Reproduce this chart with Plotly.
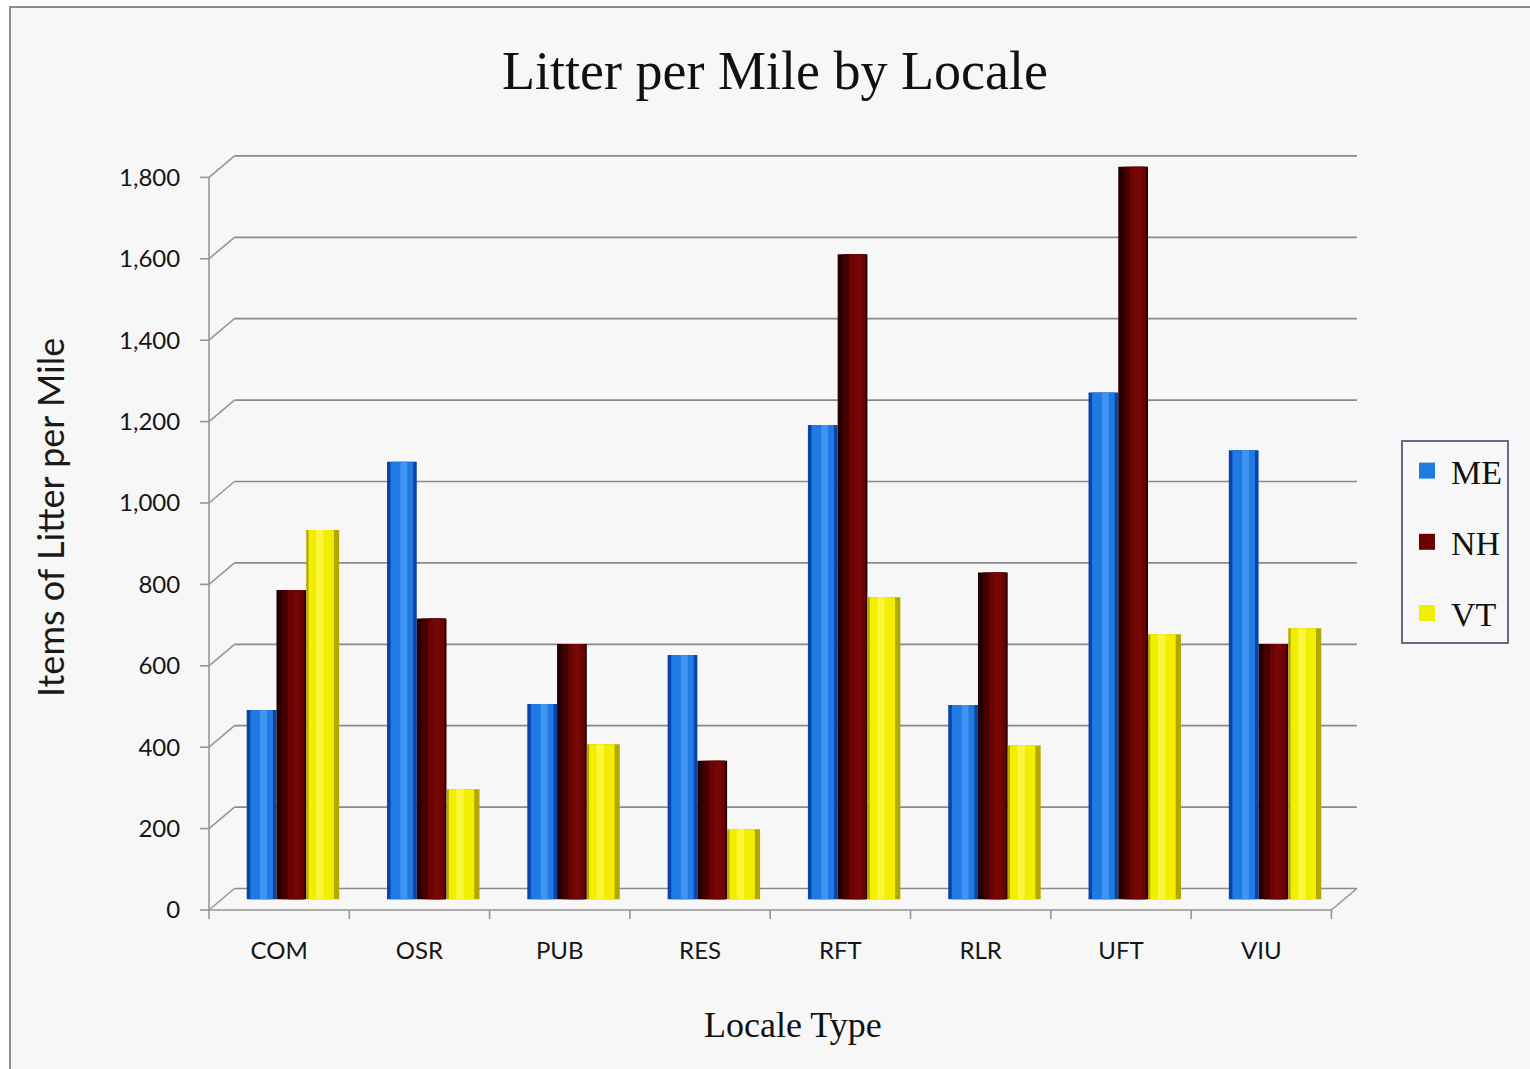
import plotly.graph_objects as go

# ---- data -------------------------------------------------------------
categories = ["COM", "OSR", "PUB", "RES", "RFT", "RLR", "UFT", "VIU"]
me_values = [465, 1075, 480, 600, 1165, 477, 1245, 1103]
nh_values = [760, 690, 627, 340, 1585, 803, 1800, 627]
vt_values = [907, 270, 381, 172, 742, 378, 651, 666]
y_ticks = list(range(0, 1801, 200))
y_tick_text = [f"{v:,}" for v in y_ticks]

# ---- page geometry (pixels) --------------------------------------------
W, H = 1530, 1069
L, R, T, B = 195, 1375, 140, 925          # plot area
CAT_PX = 140.3                             # pixels per category slot
VAL_PX = 0.407                             # pixels per unit of value
FRONT_LEFT, FRONT_ZERO = 209, 910          # front-left corner of the floor
DEPTH_X, DEPTH_Y = 25.5, -21.5             # front -> back wall shift
TICK_PX = 9                                # tick mark length


def plane_ranges(f):
    """Axis ranges for a plane at depth fraction f (0 front, 1 back)."""
    left = FRONT_LEFT + f * DEPTH_X
    zero = FRONT_ZERO + f * DEPTH_Y
    xr = [(L - left) / CAT_PX - 0.5, (R - left) / CAT_PX - 0.5]
    yr = [(zero - B) / VAL_PX, (zero - T) / VAL_PX]
    return xr, yr


def px_x(px):
    return (px - L) / (R - L)


def px_y(py):
    return (B - py) / (B - T)


front_x, front_y = plane_ranges(0.0)
mid_x, mid_y = plane_ranges(0.5)
back_x, back_y = plane_ranges(1.0)

# front plane expressed in back-wall units
dxu = DEPTH_X / CAT_PX
dyu = DEPTH_Y / VAL_PX          # negative: front values sit lower
tick_xu = TICK_PX / CAT_PX
tick_yu = TICK_PX / VAL_PX
n = len(categories)
x_left, x_right = -0.5, n - 0.5

fig = go.Figure()

# ---- walls: back gridlines, left wall diagonals, floor edges -----------
gx, gy = [], []
for v in y_ticks:
    gx += [x_left, x_right, None]
    gy += [v, v, None]
fig.add_trace(go.Scatter(x=gx, y=gy, mode="lines", xaxis="x2", yaxis="y2",
                         line=dict(color="#8a8a8a", width=1.7),
                         hoverinfo="skip", showlegend=False))

wx, wy = [], []
for v in y_ticks:
    # left wall diagonal
    wx += [x_left - dxu, x_left, None]
    wy += [v + dyu, v, None]
    # value-axis tick mark on the front edge
    wx += [x_left - dxu - tick_xu, x_left - dxu, None]
    wy += [v + dyu, v + dyu, None]
# category-axis tick marks at slot boundaries
for i in range(n + 1):
    wx += [i - 0.5 - dxu, i - 0.5 - dxu, None]
    wy += [dyu, dyu - tick_yu, None]
# front-left vertical edge
wx += [x_left - dxu, x_left - dxu, None]
wy += [dyu, y_ticks[-1] + dyu, None]
# front floor edge
wx += [x_left - dxu, x_right - dxu, None]
wy += [dyu, dyu, None]
# right floor diagonal
wx += [x_right - dxu, x_right, None]
wy += [dyu, 0, None]
fig.add_trace(go.Scatter(x=wx, y=wy, mode="lines", xaxis="x2", yaxis="y2",
                         line=dict(color="#969696", width=1.6),
                         hoverinfo="skip", showlegend=False))

# ---- cylinder-like columns -------------------------------------------
series = [
    ("ME", me_values, -0.322, 0.212, "#1f7ae3",
     [(0.0, 1.0, "#0b44a8"), (0.12, 0.88, "#1f7ae3"), (0.45, 0.68, "#3f95f1")]),
    ("NH", nh_values, -0.110, 0.212, "#6b0202",
     [(0.0, 1.0, "#260000"), (0.18, 0.95, "#450101"), (0.38, 0.93, "#6c0303"),
      (0.55, 0.78, "#770707")]),
    ("VT", vt_values, 0.102, 0.235, "#f2ee00",
     [(0.0, 1.0, "#b3a800"), (0.07, 0.84, "#f3ee00"), (0.3, 0.52, "#faf63c")]),
]

for name, vals, off, w, main, layers in series:
    for lo, hi, col in layers:
        fig.add_trace(go.Bar(
            x=categories, y=vals, xaxis="x3", yaxis="y3",
            offset=off + lo * w, width=(hi - lo) * w,
            marker=dict(color=col, line=dict(width=0)),
            name=name, showlegend=False,
            hovertemplate="%{x}: %{y}<extra>" + name + "</extra>",
        ))
    # legend entry
    fig.add_trace(go.Scatter(
        x=[None], y=[None], xaxis="x3", yaxis="y3", mode="markers",
        marker=dict(symbol="square", size=16, color=main),
        name=name, legendgroup=name, showlegend=True,
    ))

# invisible anchor trace so the front axes draw their labels
fig.add_trace(go.Scatter(x=[0], y=[0], mode="markers", opacity=0,
                         hoverinfo="skip", showlegend=False))

axis_font = dict(family="Lato, Carlito, sans-serif", size=24, color="#151515")

fig.update_layout(
    width=W, height=H,
    margin=dict(l=L, r=W - R, t=T, b=H - B, autoexpand=False),
    paper_bgcolor="white",
    plot_bgcolor="rgba(0,0,0,0)",
    barmode="overlay",
    title=dict(text="Litter per Mile by Locale",
               font=dict(family="Liberation Serif, serif", size=54, color="#111111"),
               x=775 / W, y=1 - 70 / H, xref="container", yref="container",
               xanchor="center", yanchor="middle"),
    xaxis=dict(range=front_x, anchor="free", position=px_y(FRONT_ZERO),
               tickmode="array", tickvals=list(range(n)), ticktext=categories,
               ticks="outside", ticklen=19, tickcolor="rgba(0,0,0,0)",
               showgrid=False, zeroline=False, showline=False,
               tickfont=axis_font),
    yaxis=dict(range=front_y, anchor="free", position=px_x(FRONT_LEFT),
               tickmode="array", tickvals=y_ticks, ticktext=y_tick_text,
               ticks="outside", ticklen=24, tickcolor="rgba(0,0,0,0)",
               showgrid=False, zeroline=False, showline=False,
               tickfont=axis_font),
    xaxis2=dict(range=back_x, overlaying="x", visible=False),
    yaxis2=dict(range=back_y, overlaying="y", visible=False),
    xaxis3=dict(range=mid_x, overlaying="x", visible=False, type="category",
                categoryorder="array", categoryarray=categories),
    yaxis3=dict(range=mid_y, overlaying="y", visible=False),
    legend=dict(x=1401 / W, y=1 - 440 / H, xref="container", yref="container",
                xanchor="left", yanchor="top",
                bgcolor="rgba(0,0,0,0)", bordercolor="#6f6586", borderwidth=2,
                font=dict(family="Liberation Serif, serif", size=34, color="#111111"),
                tracegroupgap=24, itemwidth=38, traceorder="grouped"),
    shapes=[dict(type="rect", xref="paper", yref="paper", layer="below",
                 x0=px_x(10), x1=px_x(W + 5), y0=px_y(H + 5), y1=px_y(7),
                 fillcolor="#f7f7f7", line=dict(color="#8c8c8c", width=2))],
    annotations=[
        dict(text="Locale Type", xref="paper", yref="paper",
             x=px_x(793), y=px_y(1025), showarrow=False,
             xanchor="center", yanchor="middle",
             font=dict(family="Liberation Serif, serif", size=36, color="#111111")),
        dict(text="Items of Litter per Mile", xref="paper", yref="paper",
             x=px_x(50), y=px_y(518), showarrow=False, textangle=-90,
             xanchor="center", yanchor="middle",
             font=dict(family="Lato, Carlito, sans-serif", size=36, color="#1a1a1a")),
    ],
)

fig.write_html("out.html")
